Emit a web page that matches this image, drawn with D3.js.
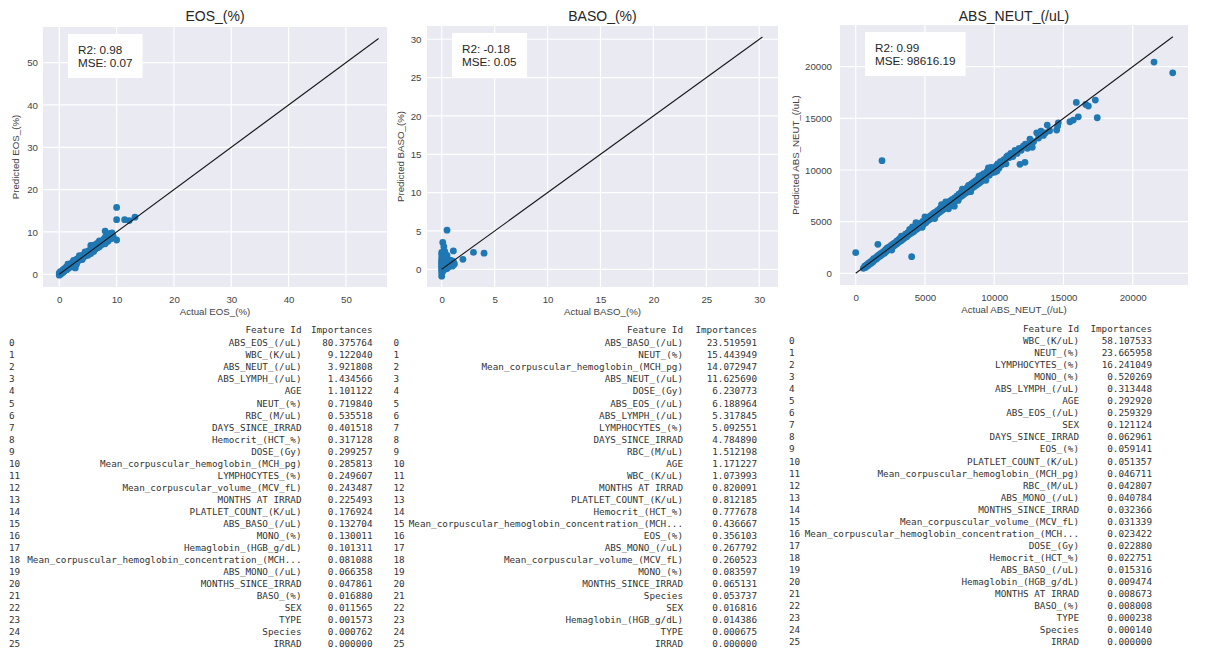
<!DOCTYPE html>
<html>
<head>
<meta charset="utf-8">
<script src="https://cdn.jsdelivr.net/npm/d3@7"></script>
<style>
  body { margin: 0; background: #ffffff; }
  svg text { font-family: "Liberation Sans", Arial, sans-serif; }
  .tbl text { font-family: "DejaVu Sans Mono", monospace; font-size: 9.3px; fill: #333; }
</style>
</head>
<body>
<svg id="fig" width="1210" height="651"></svg>
<script>
// ---------- regression results: [actual, predicted] ----------
const eosPoints = [
  [0.0,0.1],[0.0,-0.2],[0.0,0.3],[0.1,0.0],[0.1,0.4],[0.2,0.2],[0.2,0.6],[0.3,0.1],[0.3,0.5],[0.4,0.3],
  [0.5,0.7],[0.5,0.4],[0.6,0.9],[0.7,0.5],[0.7,1.1],[0.8,0.8],[0.9,1.3],[1.0,0.9],[1.0,1.4],[1.1,1.2],
  [1.2,1.7],[1.3,1.1],[1.4,1.6],[1.5,1.9],[1.5,1.3],[1.6,2.1],[1.7,1.7],[1.8,2.3],[1.9,1.9],[2.0,2.5],
  [2.0,2.0],[2.1,1.7],[2.2,2.6],[2.3,2.2],[2.4,2.9],[2.5,2.4],[2.6,3.1],[2.7,2.6],[2.8,1.5],[2.8,3.3],
  [2.9,2.8],[3.0,3.5],[3.1,3.0],[3.2,3.7],[3.3,3.2],[3.4,3.9],[3.5,3.4],[3.6,4.0],[3.7,3.5],[3.8,4.2],
  [3.9,3.8],[4.0,4.4],[4.1,3.9],[4.2,4.5],[4.3,4.2],[4.4,4.8],[4.5,4.3],[4.6,5.0],[4.7,4.5],[4.8,5.1],
  [4.9,4.7],[5.0,5.4],[5.1,4.9],[5.2,5.6],[5.3,5.0],[5.4,5.7],[5.5,6.8],[5.5,5.3],[5.6,5.9],[5.7,5.4],
  [5.8,6.0],[5.9,5.6],[6.0,6.2],[6.1,5.8],[6.2,6.4],[6.3,6.0],[6.4,6.6],[6.5,6.2],[6.6,6.8],[6.7,6.3],
  [6.8,7.5],[6.9,6.6],[7.0,7.2],[7.1,6.8],[7.2,7.6],[7.3,7.0],[7.4,7.8],[7.5,7.1],[7.6,8.0],[7.7,7.3],
  [7.8,8.3],[7.9,7.4],[8.0,10.2],[8.0,8.7],[8.1,7.6],[8.2,9.0],[8.3,8.0],[8.4,9.3],[8.5,7.8],[8.6,8.4],
  [8.8,9.6],[9.0,9.1],[9.2,9.8],[9.4,9.0],[10.0,8.1],[10.0,12.9],[10.0,15.8],[11.4,12.9],[12.2,12.7],[13.2,13.5],
  [1.5,2.4],[2.5,3.3],[3.5,4.4],[4.5,5.3],[6.0,6.9],[7.0,7.9],[3.0,2.4],[4.0,3.5],[5.0,4.5],[6.0,5.4],
  [7.0,6.5],[8.0,7.2],[8.6,9.4],[9.0,8.4],[6.5,7.2],[5.5,4.9]
];

const basoPoints = [
  [0.0,-0.9],[0.0,-0.5],[0.0,-0.2],[0.0,0.0],[0.0,0.2],[0.0,0.4],[0.0,0.6],[0.0,0.8],[0.0,1.0],[0.0,1.2],
  [0.0,1.5],[0.0,1.9],[0.0,2.2],[0.1,3.5],[0.1,0.1],[0.1,0.5],[0.1,0.9],[0.1,1.3],[0.1,-0.3],[0.2,2.95],
  [0.2,0.3],[0.2,0.7],[0.2,1.7],[0.2,1.1],[0.3,0.0],[0.3,0.4],[0.3,1.4],[0.3,2.3],[0.4,0.2],[0.4,0.8],
  [0.5,5.1],[0.5,0.1],[0.5,0.5],[0.5,1.0],[0.5,1.8],[0.6,0.3],[0.6,0.7],[0.7,0.4],[0.7,0.9],[0.8,0.5],
  [0.8,1.2],[0.9,0.6],[1.0,0.4],[1.0,0.8],[1.0,1.1],[1.1,2.4],[1.1,0.6],[1.1,1.0],[1.2,0.7],[2.0,1.3],
  [3.0,2.2],[4.0,2.1]
];

const neutPoints = [
  [0,2000],[550,480],[650,700],[700,560],[780,820],[850,700],[900,950],[980,860],[1050,1100],[1120,980],
  [1200,1250],[1260,1120],[1300,1420],[1380,1300],[1450,1520],[1500,1380],[1560,1650],[1600,2800],[1640,1560],[1700,1800],
  [1780,1680],[1850,1950],[1900,10900],[1920,1820],[2000,2100],[2080,1950],[2150,2300],[2200,2100],[2280,2450],[2350,2250],
  [2420,2550],[2500,2350],[2560,2700],[2620,2500],[2700,2850],[2760,2650],[2830,2950],[2900,2780],[2960,3100],[3020,2900],
  [3100,3250],[3150,3050],[3220,3400],[3280,3150],[3350,3480],[3420,3300],[3480,3620],[3550,3450],[3600,3780],[3680,3550],
  [3750,3900],[3800,3700],[3870,4020],[3940,3820],[4000,4150],[4040,1610],[4080,3950],[4150,4300],[4200,4050],[4280,4450],
  [4350,4900],[4380,4250],[4450,4600],[4520,4380],[4580,4750],[4650,4520],[4720,4880],[4780,4650],[4850,5020],[4920,4780],
  [5000,5150],[5060,4900],[5130,5300],[5200,5080],[5260,5430],[5330,5200],[5400,5550],[5460,5320],[5530,5700],[5600,5450],
  [5660,5850],[5720,5580],[5800,5950],[5860,5700],[5930,6100],[6000,5850],[6080,6250],[6150,6000],[6220,6400],[6300,6150],
  [6380,6550],[6450,6300],[6520,6700],[6600,6450],[6680,6850],[6750,6550],[6820,7000],[6900,6700],[6980,7150],[7050,6880],
  [7120,6500],[7150,7300],[7230,7050],[7300,7480],[7380,7200],[7450,7650],[7520,7350],[7600,7800],[7680,7500],[7750,7950],
  [7820,7650],[7900,8100],[7980,7800],[8050,8300],[8120,7950],[8200,8450],[8280,8100],[8350,8650],[8420,8250],[8500,8800],
  [8580,8400],[8650,8950],[8730,8550],[8800,9100],[8880,8700],[8950,9350],[9020,8850],[9100,9500],[9180,9000],[9250,9650],
  [9330,9150],[9420,9300],[9500,9900],[9580,10200],[9650,9500],[9730,9950],[9800,10250],[9880,9750],[9950,10100],[10050,9800],
  [10150,10400],[10250,10600],[10350,10200],[10450,10800],[10550,10500],[10700,11000],[10850,10600],[11000,11400],[11100,11200],[11200,11600],
  [11350,11300],[11500,11900],[11650,11600],[11800,12100],[11860,10550],[11950,11900],[12100,12300],[12220,10740],[12250,12500],[12400,12100],
  [12500,12400],[12580,12990],[12650,12600],[12750,12200],[12850,12750],[13070,13600],[13200,13100],[13380,13770],[13550,13350],[13700,13600],
  [13830,14350],[14000,13800],[14510,13870],[14580,14250],[14630,14570],[15470,14670],[15710,14830],[16070,15150],[15930,16540],[16610,16350],
  [16800,16190],[17300,16770],[17440,15060],[21540,20450],[22890,19410],
  [2600,2250],[3300,3600],[4100,4500],[5000,5450],[5700,5300],[6200,6650],[6700,6250],[7400,7050],[8300,7900],[8900,9400],
  [9400,9000],[10200,9900],[10900,11300],[3900,4250],[4800,4450],[6500,6900],[7700,8150],[8150,8500]
];

// end of the y = x reference line for each target
const eosDiagMax = 55.7;
const basoDiagMax = 30.3;
const neutDiagMax = 22900;

// tick values
const eosTicks = [0, 10, 20, 30, 40, 50];
const basoTicks = [0, 5, 10, 15, 20, 25, 30];
const neutTicks = [0, 5000, 10000, 15000, 20000];

// score annotations
const eosScores = ["R2: 0.98", "MSE: 0.07"];
const basoScores = ["R2: -0.18", "MSE: 0.05"];
const neutScores = ["R2: 0.99", "MSE: 98616.19"];

// ---------- feature importance tables ----------
const eosFeatures = ["ABS_EOS_(/uL)","WBC_(K/uL)","ABS_NEUT_(/uL)","ABS_LYMPH_(/uL)","AGE","NEUT_(%)","RBC_(M/uL)",
  "DAYS_SINCE_IRRAD","Hemocrit_(HCT_%)","DOSE_(Gy)","Mean_corpuscular_hemoglobin_(MCH_pg)","LYMPHOCYTES_(%)",
  "Mean_corpuscular_volume_(MCV_fL)","MONTHS AT IRRAD","PLATLET_COUNT_(K/uL)","ABS_BASO_(/uL)","MONO_(%)",
  "Hemaglobin_(HGB_g/dL)","Mean_corpuscular_hemoglobin_concentration_(MCH...","ABS_MONO_(/uL)","MONTHS_SINCE_IRRAD",
  "BASO_(%)","SEX","TYPE","Species","IRRAD"];
const eosImportances = [80.375764,9.122040,3.921808,1.434566,1.101122,0.719840,0.535518,0.401518,0.317128,0.299257,
  0.285813,0.249607,0.243487,0.225493,0.176924,0.132704,0.130011,0.101311,0.081088,0.066358,0.047861,0.016880,
  0.011565,0.001573,0.000762,0.000000];

const basoFeatures = ["ABS_BASO_(/uL)","NEUT_(%)","Mean_corpuscular_hemoglobin_(MCH_pg)","ABS_NEUT_(/uL)","DOSE_(Gy)",
  "ABS_EOS_(/uL)","ABS_LYMPH_(/uL)","LYMPHOCYTES_(%)","DAYS_SINCE_IRRAD","RBC_(M/uL)","AGE","WBC_(K/uL)",
  "MONTHS AT IRRAD","PLATLET_COUNT_(K/uL)","Hemocrit_(HCT_%)","Mean_corpuscular_hemoglobin_concentration_(MCH...",
  "EOS_(%)","ABS_MONO_(/uL)","Mean_corpuscular_volume_(MCV_fL)","MONO_(%)","MONTHS_SINCE_IRRAD","Species","SEX",
  "Hemaglobin_(HGB_g/dL)","TYPE","IRRAD"];
const basoImportances = [23.519591,15.443949,14.072947,11.625690,6.230773,6.188964,5.317845,5.092551,4.784890,1.512198,
  1.171227,1.073993,0.820091,0.812185,0.777678,0.436667,0.356103,0.267792,0.260523,0.083597,0.065131,0.053737,
  0.016816,0.014386,0.000675,0.000000];

const neutFeatures = ["WBC_(K/uL)","NEUT_(%)","LYMPHOCYTES_(%)","MONO_(%)","ABS_LYMPH_(/uL)","AGE","ABS_EOS_(/uL)","SEX",
  "DAYS_SINCE_IRRAD","EOS_(%)","PLATLET_COUNT_(K/uL)","Mean_corpuscular_hemoglobin_(MCH_pg)","RBC_(M/uL)",
  "ABS_MONO_(/uL)","MONTHS_SINCE_IRRAD","Mean_corpuscular_volume_(MCV_fL)",
  "Mean_corpuscular_hemoglobin_concentration_(MCH...","DOSE_(Gy)","Hemocrit_(HCT_%)","ABS_BASO_(/uL)",
  "Hemaglobin_(HGB_g/dL)","MONTHS AT IRRAD","BASO_(%)","TYPE","Species","IRRAD"];
const neutImportances = [58.107533,23.665958,16.241049,0.520269,0.313448,0.292920,0.259329,0.121124,0.062961,0.059141,
  0.051357,0.046711,0.042807,0.040784,0.032366,0.031339,0.023422,0.022880,0.022751,0.015316,0.009474,0.008673,
  0.008008,0.000238,0.000140,0.000000];

const tableHeader = ["Feature Id", "Importances"];

// ---------- drawing ----------
const svg = d3.select("#fig");
const BG = "#eaeaf2", DOT = "#1f77b4", INK = "#262626", TICK = "#444";

function scatterPanel(cfg) {
  const g = svg.append("g");
  const { x0, x1, y0, y1 } = cfg.rect;
  const x = d3.scaleLinear().domain(cfg.xDomain).range([x0, x1]);
  const y = d3.scaleLinear().domain(cfg.yDomain).range([y1, y0]);

  g.append("rect").attr("x", x0).attr("y", y0).attr("width", x1 - x0).attr("height", y1 - y0).attr("fill", BG);

  // white grid
  g.selectAll(".gx").data(cfg.ticks).join("line")
    .attr("x1", d => x(d)).attr("x2", d => x(d)).attr("y1", y0).attr("y2", y1)
    .attr("stroke", "#fff").attr("stroke-width", 1.2);
  g.selectAll(".gy").data(cfg.ticks).join("line")
    .attr("y1", d => y(d)).attr("y2", d => y(d)).attr("x1", x0).attr("x2", x1)
    .attr("stroke", "#fff").attr("stroke-width", 1.2);

  // tick labels through d3 axes (no lines)
  const xAxis = g.append("g").attr("transform", `translate(0,${y1})`)
    .call(d3.axisBottom(x).tickValues(cfg.ticks).tickSize(0).tickPadding(9).tickFormat(d3.format("d")));
  const yAxis = g.append("g").attr("transform", `translate(${x0},0)`)
    .call(d3.axisLeft(y).tickValues(cfg.ticks).tickSize(0).tickPadding(cfg.yPad).tickFormat(d3.format("d")));
  [xAxis, yAxis].forEach(a => {
    a.select(".domain").remove();
    a.selectAll("text").attr("font-family", "Liberation Sans, Arial, sans-serif")
      .attr("font-size", 9.7).attr("fill", TICK);
  });

  // points
  g.append("g").selectAll("circle").data(cfg.points).join("circle")
    .attr("cx", d => x(d[0])).attr("cy", d => y(d[1])).attr("r", 3.4).attr("fill", DOT);

  // y = x line
  g.append("line")
    .attr("x1", x(0)).attr("y1", y(0)).attr("x2", x(cfg.diagMax)).attr("y2", y(cfg.diagMax))
    .attr("stroke", "#1a1a1a").attr("stroke-width", 1.1);

  // score box
  const bx = x0 + 25, by = y0 + 7;
  const box = g.append("rect").attr("x", bx).attr("y", by).attr("height", 44).attr("fill", "#fff");
  const txt = g.append("g");
  cfg.scores.forEach((s, i) => {
    txt.append("text").attr("x", bx + 10).attr("y", by + 19.5 + i * 13)
      .attr("font-size", 11.7).attr("fill", INK).text(s);
  });
  box.attr("width", txt.node().getBBox().width + 20);

  // titles
  g.append("text").attr("x", (x0 + x1) / 2).attr("y", 21).attr("text-anchor", "middle")
    .attr("font-size", 14).attr("fill", INK).text(cfg.title);
  g.append("text").attr("x", (x0 + x1) / 2).attr("y", y1 + 28).attr("text-anchor", "middle")
    .attr("font-size", 9.7).attr("fill", TICK).text(cfg.xLabel);
  g.append("text").attr("transform", `translate(${cfg.yLabelX},${(y0 + y1) / 2}) rotate(-90)`)
    .attr("text-anchor", "middle").attr("font-size", 9.7).attr("fill", TICK).text(cfg.yLabel);
}

scatterPanel({
  title: "EOS_(%)", xLabel: "Actual EOS_(%)", yLabel: "Predicted EOS_(%)",
  points: eosPoints, diagMax: eosDiagMax, ticks: eosTicks, scores: eosScores,
  rect: { x0: 43, x1: 387, y0: 27, y1: 287 }, xDomain: [-2.84, 57.16], yDomain: [-3.0, 58.42],
  yPad: 5, yLabelX: 18.5
});
scatterPanel({
  title: "BASO_(%)", xLabel: "Actual BASO_(%)", yLabel: "Predicted BASO_(%)",
  points: basoPoints, diagMax: basoDiagMax, ticks: basoTicks, scores: basoScores,
  rect: { x0: 427, x1: 778, y0: 26, y1: 287 }, xDomain: [-1.39, 31.77], yDomain: [-2.31, 31.73],
  yPad: 5.5, yLabelX: 403.5
});
scatterPanel({
  title: "ABS_NEUT_(/uL)", xLabel: "Actual ABS_NEUT_(/uL)", yLabel: "Predicted ABS_NEUT_(/uL)",
  points: neutPoints, diagMax: neutDiagMax, ticks: neutTicks, scores: neutScores,
  rect: { x0: 840, x1: 1188, y0: 25, y1: 285 }, xDomain: [-1134, 23993], yDomain: [-1133, 24037],
  yPad: 8, yLabelX: 798.5
});

// importance tables, printed like a DataFrame
const fmt = d3.format(".6f");
function importanceTable(features, values, pos) {
  const g = svg.append("g").attr("class", "tbl");
  const step = 12.04, lift = 3.3;
  g.append("text").attr("x", pos.featRight).attr("y", pos.headerY + lift).attr("text-anchor", "end").text(tableHeader[0]);
  g.append("text").attr("x", pos.valRight).attr("y", pos.headerY + lift).attr("text-anchor", "end").text(tableHeader[1]);
  const rows = g.selectAll("g.row").data(features.map((f, i) => ({ f, v: values[i], i }))).join("g")
    .attr("transform", d => `translate(0,${pos.row0 + d.i * step + lift})`);
  rows.append("text").attr("x", pos.idxX).text(d => d.i);
  rows.append("text").attr("x", pos.featRight).attr("text-anchor", "end").text(d => d.f);
  rows.append("text").attr("x", pos.valRight).attr("text-anchor", "end").text(d => fmt(d.v));
}

importanceTable(eosFeatures, eosImportances, { idxX: 9, featRight: 301.5, valRight: 372.5, headerY: 330, row0: 343 });
importanceTable(basoFeatures, basoImportances, { idxX: 393.5, featRight: 683, valRight: 757, headerY: 330, row0: 343 });
importanceTable(neutFeatures, neutImportances, { idxX: 789, featRight: 1079, valRight: 1152, headerY: 328.5, row0: 340.8 });
</script>
</body>
</html>
